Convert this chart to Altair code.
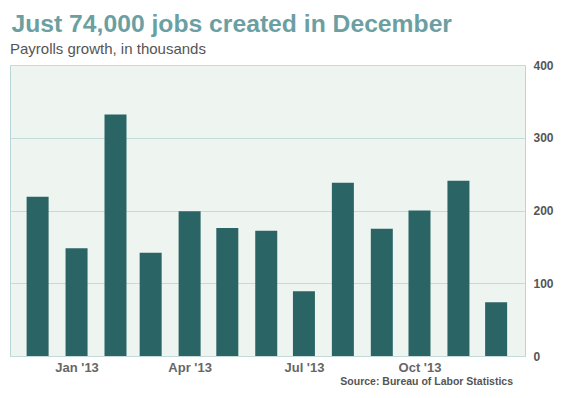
import altair as alt
import pandas as pd

# ---- data ----
months = ["2012-12-15", "2013-01-15", "2013-02-15", "2013-03-15", "2013-04-15",
          "2013-05-15", "2013-06-15", "2013-07-15", "2013-08-15", "2013-09-15",
          "2013-10-15", "2013-11-15", "2013-12-15"]
payrolls = [219, 148, 332, 142, 199, 176, 172, 89, 238, 175, 200, 241, 74]
tick_months = [1, 4, 7, 10]          # labelled months of 2013
y_ticks = [0, 100, 200, 300, 400]

TITLE = "Just 74,000 jobs created in December"
SUBTITLE = "Payrolls growth, in thousands"
SOURCE = "Source: Bureau of Labor Statistics"

df = pd.DataFrame({"month": months, "jobs": payrolls})

x_enc = alt.X(
    "month:T",
    scale=alt.Scale(domain=[alt.DateTime(year=2012, month=11, date=27),
                            alt.DateTime(year=2014, month=1, date=3)]),
    axis=alt.Axis(
        values=[alt.DateTime(year=2013, month=m, date=15) for m in tick_months],
        format="%b '%y", title=None, grid=False, domain=False, ticks=False,
        labelPadding=5, labelFont="Liberation Sans", labelFontWeight="bold",
        labelFontSize=13, labelColor="#666666", labelAlign="center",
    ),
)
y_enc = alt.Y(
    "jobs:Q",
    scale=alt.Scale(domain=[0, 400], nice=False),
    axis=alt.Axis(
        orient="right", values=y_ticks, title=None, grid=True, gridColor="#c4dbdb",
        gridWidth=1, domain=False, ticks=False, labelPadding=8,
        labelFont="Liberation Sans", labelFontWeight="bold", labelFontSize=12,
        labelColor="#555555", labelBaseline="middle",
    ),
)

bars = alt.Chart(df).mark_bar(size=22, color="#2a6465").encode(x=x_enc, y=y_enc)

title_txt = alt.Chart(pd.DataFrame({"t": [TITLE]})).mark_text(
    align="left", baseline="alphabetic", font="Liberation Sans",
    fontWeight="bold", fontSize=24.7, color="#6b9fa2",
).encode(text="t:N", x=alt.value(1.5), y=alt.value(-33.5))

sub_txt = alt.Chart(pd.DataFrame({"t": [SUBTITLE]})).mark_text(
    align="left", baseline="alphabetic", font="Liberation Sans",
    fontSize=15, color="#555555",
).encode(text="t:N", x=alt.value(0), y=alt.value(-11))

src_txt = alt.Chart(pd.DataFrame({"t": [SOURCE]})).mark_text(
    align="right", baseline="alphabetic", font="Liberation Sans",
    fontWeight="bold", fontSize=10.5, color="#555555",
).encode(text="t:N", x=alt.value(503), y=alt.value(320))

chart = alt.layer(bars, title_txt, sub_txt, src_txt).properties(
    width=515, height=291,
    autosize=alt.AutoSizeParams(type="none"),
    padding={"left": 2, "top": 57, "right": 36, "bottom": 31},
    background="white",
).configure_view(stroke="#b9d6d6", fill="#eef5f1", strokeWidth=1)

chart.save("out.html", embed_options={"renderer": "svg", "actions": False})
